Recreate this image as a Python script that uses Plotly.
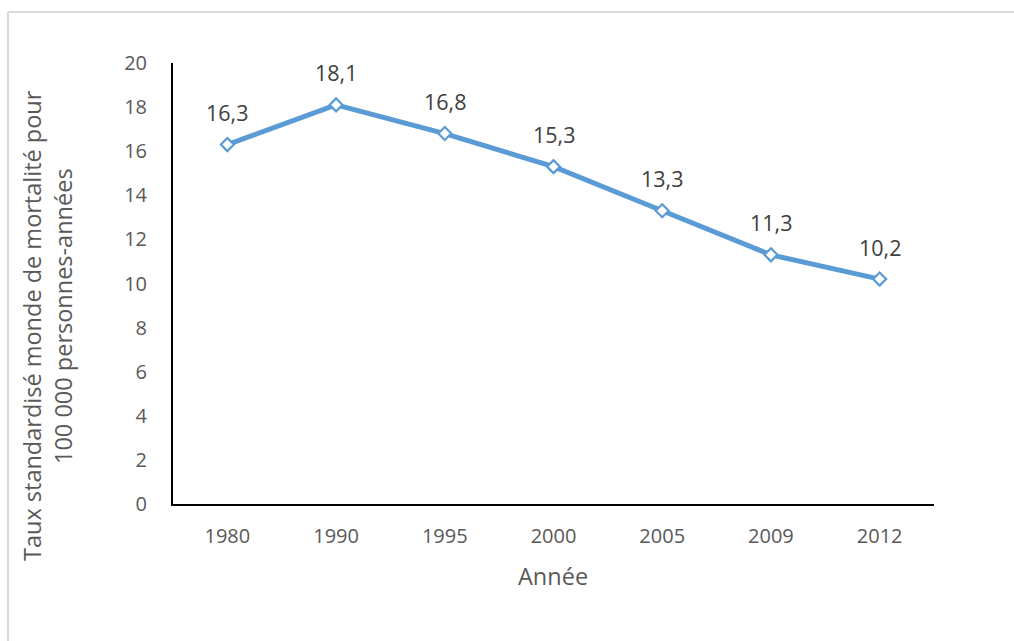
import plotly.graph_objects as go

years = ["1980", "1990", "1995", "2000", "2005", "2009", "2012"]
rates = [16.3, 18.1, 16.8, 15.3, 13.3, 11.3, 10.2]
labels = ["16,3", "18,1", "16,8", "15,3", "13,3", "11,3", "10,2"]
y_ticks = [0, 2, 4, 6, 8, 10, 12, 14, 16, 18, 20]
y_title_lines = ["Taux standardisé monde de mortalité pour", "100 000 personnes-années"]
x_title = "Année"

W, H = 1014, 641
L, R, T, B = 173, 80, 63, 137
pw, ph = W - L - R, H - T - B

def px_x(x):
    return (x - L) / pw

def px_y(y):
    return (H - B - y) / ph

FONT = "Open Sans"
BLUE = "#5B9BD5"
GRAY = "#595959"
TITLE_SIZE = 23.5

fig = go.Figure()
fig.add_trace(go.Scatter(
    x=years, y=rates, mode="lines+markers",
    line=dict(color=BLUE, width=5),
    marker=dict(symbol="diamond", size=10, color="white", line=dict(color=BLUE, width=2.2)),
    hoverinfo="skip", showlegend=False,
))

annotations = []
for i, (v, lab) in enumerate(zip(rates, labels)):
    annotations.append(dict(x=i, y=v, xref="x", yref="y", text=lab, showarrow=False,
                            yshift=32, font=dict(family=FONT, size=21.5, color="#404040")))

annotations.append(dict(x=px_x(32), y=px_y(326), xref="paper", yref="paper", text=y_title_lines[0],
                        textangle=-90, showarrow=False, xanchor="center", yanchor="middle",
                        font=dict(family=FONT, size=TITLE_SIZE, color=GRAY)))
annotations.append(dict(x=px_x(63), y=px_y(316), xref="paper", yref="paper", text=y_title_lines[1],
                        textangle=-90, showarrow=False, xanchor="center", yanchor="middle",
                        font=dict(family=FONT, size=TITLE_SIZE, color=GRAY)))
annotations.append(dict(x=px_x(553), y=px_y(576), xref="paper", yref="paper", text=x_title,
                        showarrow=False, xanchor="center", yanchor="middle",
                        font=dict(family=FONT, size=TITLE_SIZE, color=GRAY)))

shapes = [
    dict(type="line", xref="paper", yref="paper", x0=px_x(8), x1=px_x(W + 5), y0=px_y(12), y1=px_y(12),
         line=dict(color="#D9D9D9", width=2)),
    dict(type="line", xref="paper", yref="paper", x0=px_x(8), x1=px_x(8), y0=px_y(12), y1=px_y(H + 5),
         line=dict(color="#D9D9D9", width=2)),
]

fig.update_layout(
    width=W, height=H,
    margin=dict(l=L, r=R, t=T, b=B, autoexpand=False),
    paper_bgcolor="white", plot_bgcolor="white",
    font=dict(family=FONT, size=20, color=GRAY),
    annotations=annotations, shapes=shapes,
    xaxis=dict(type="category", range=[-0.5, 6.5], showgrid=False, zeroline=False,
               showline=True, linecolor="black", linewidth=2, ticks="",
               ticklabelstandoff=13, tickfont=dict(family=FONT, size=20, color=GRAY)),
    yaxis=dict(range=[0, 20], tickvals=y_ticks, showgrid=False, zeroline=False,
               showline=True, linecolor="black", linewidth=2, ticks="",
               ticklabelstandoff=20, tickfont=dict(family=FONT, size=20, color=GRAY)),
)

fig.write_html("out.html", config={"displayModeBar": False},
               post_script="document.body.style.margin='0';document.body.style.overflow='hidden';")
